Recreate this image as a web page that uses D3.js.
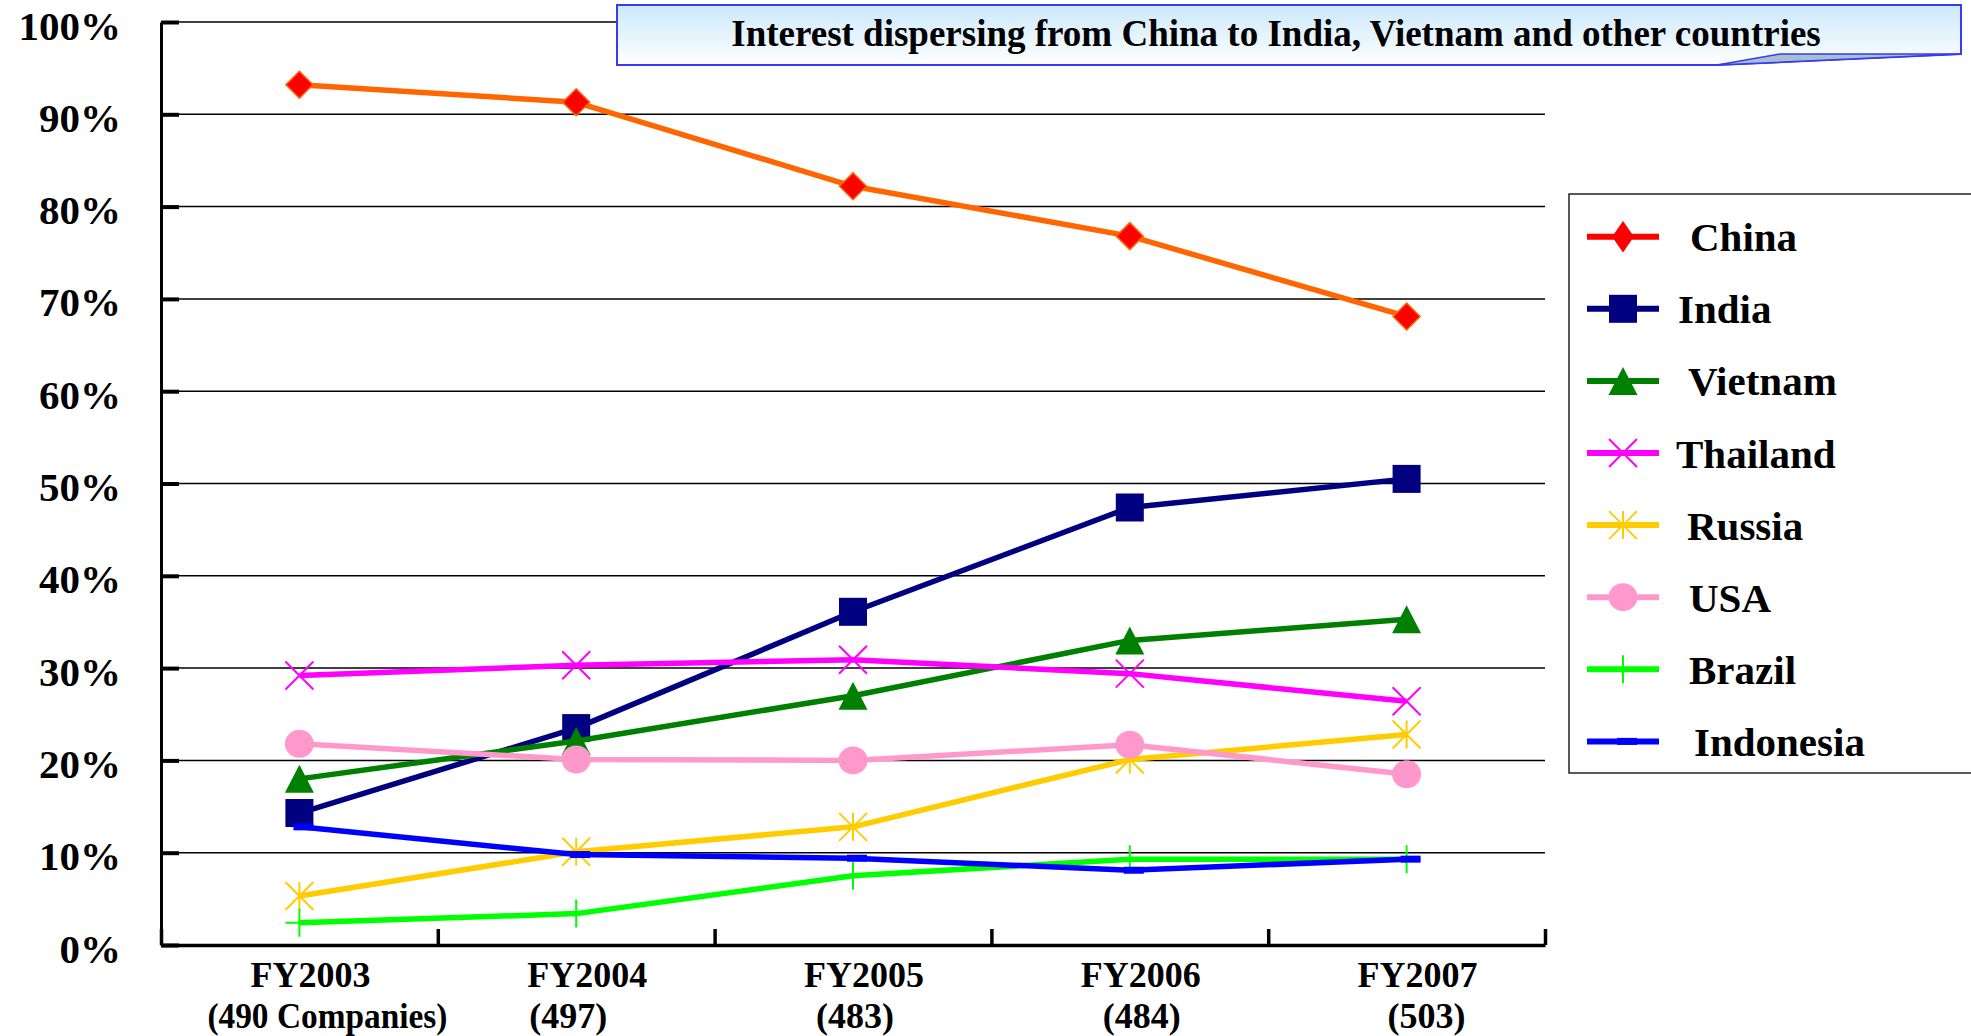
<!DOCTYPE html>
<html>
<head>
<meta charset="utf-8">
<script src="https://cdn.jsdelivr.net/npm/d3@7"></script>
<style>
  html, body { margin: 0; padding: 0; background: #fff; overflow: hidden; }
  svg { display: block; font-family: "Liberation Serif", "Times New Roman", serif; font-weight: bold; }
</style>
</head>
<body>
<svg id="chart" width="1971" height="1036"></svg>
<script>
// ---- data ----
const years = ["FY2003", "FY2004", "FY2005", "FY2006", "FY2007"];
const companyCounts = ["(490 Companies)", "(497)", "(483)", "(484)", "(503)"];
const yTickValues = [0, 10, 20, 30, 40, 50, 60, 70, 80, 90, 100];
const yTickLabels = ["0%", "10%", "20%", "30%", "40%", "50%", "60%", "70%", "80%", "90%", "100%"];
const seriesNames = ["China", "India", "Vietnam", "Thailand", "Russia", "USA", "Brazil", "Indonesia"];
const china     = [93.2, 91.3, 82.2, 76.8, 68.1];
const india     = [14.3, 23.5, 36.1, 47.4, 50.5];
const vietnam   = [18.0, 22.1, 27.0, 33.0, 35.3];
const thailand  = [29.2, 30.3, 30.9, 29.4, 26.4];
const russia    = [5.3, 10.1, 12.8, 20.1, 22.8];
const usa       = [21.8, 20.1, 20.0, 21.7, 18.5];
const brazil    = [2.4, 3.4, 7.5, 9.3, 9.3];
const indonesia = [12.8, 9.8, 9.4, 8.1, 9.3];
const seriesValues = [china, india, vietnam, thailand, russia, usa, brazil, indonesia];
const titleText = "Interest dispersing from China to India, Vietnam and other countries";

// ---- styling per series ----
const lineColors   = ["#FF6600", "#000080", "#008000", "#FF00FF", "#FFCC00", "#FF99CC", "#00FF00", "#0000FF"];
const legendColors = ["#FF0000", "#000080", "#008000", "#FF00FF", "#FFCC00", "#FF99CC", "#00FF00", "#0000FF"];
const markerTypes  = ["diamond", "square", "triangle", "x", "star", "circle", "plus", "dash"];

// ---- layout ----
const plot = { left: 161, right: 1545, top: 22, bottom: 945 };
const subLabelShift = [28, -8, 2, 12, 20];
const legendTextX = [1690, 1678, 1688, 1676, 1687, 1689, 1689, 1694];

const svg = d3.select("#chart");

const x = d3.scaleBand().domain(years).range([plot.left, plot.right]).padding(0);
const xc = d => x(d) + x.bandwidth() / 2;
const y = d3.scaleLinear().domain([0, 100]).range([plot.bottom, plot.top]);

// horizontal gridlines
svg.append("g").selectAll("line")
  .data(yTickValues.filter(v => v > 0))
  .join("line")
  .attr("x1", plot.left).attr("x2", plot.right)
  .attr("y1", d => y(d)).attr("y2", d => y(d))
  .attr("stroke", "#000").attr("stroke-width", 1.5);

// y axis
const yAxis = svg.append("g")
  .attr("transform", `translate(${plot.left},0)`)
  .call(d3.axisLeft(y).tickValues(yTickValues).tickSize(-18).tickSizeOuter(0).tickPadding(40)
    .tickFormat((d, i) => yTickLabels[i]));
yAxis.select(".domain").attr("stroke", "#000").attr("stroke-width", 3);
yAxis.selectAll(".tick line").attr("stroke", "#000").attr("stroke-width", 4);
yAxis.selectAll(".tick text")
  .attr("font-family", "Liberation Serif, Times New Roman, serif")
  .attr("font-weight", "bold").attr("font-size", 41).attr("fill", "#000")
  .attr("dy", 17);

// x axis with ticks at category boundaries
const xEdges = d3.scaleLinear().domain([0, years.length]).range([plot.left, plot.right]);
const xAxis = svg.append("g")
  .attr("transform", `translate(0,${plot.bottom})`)
  .call(d3.axisBottom(xEdges).tickValues(d3.range(years.length + 1)).tickSize(-16).tickSizeOuter(0).tickFormat(""));
xAxis.select(".domain").attr("stroke", "#000").attr("stroke-width", 3.5);
xAxis.selectAll(".tick line").attr("stroke", "#000").attr("stroke-width", 3.5);

// category labels (two lines each)
const xLab = svg.append("g").attr("font-size", 36).attr("text-anchor", "middle").attr("fill", "#000");
xLab.selectAll("text.yr").data(years).join("text").attr("class", "yr")
  .attr("x", d => xc(d) + 11).attr("y", 987).text(d => d);
xLab.selectAll("text.cnt").data(companyCounts).join("text").attr("class", "cnt")
  .attr("x", (d, i) => xc(years[i]) + subLabelShift[i]).attr("y", 1028)
  .each(function (d, i) {
    if (i === 0) d3.select(this).attr("textLength", 240).attr("lengthAdjust", "spacingAndGlyphs");
  })
  .text(d => d);

// marker painter
function drawMarker(g, type, color, cx, cy, legend) {
  const s = 14;
  switch (type) {
    case "diamond": {
      const w = legend ? 10 : 13.5, h = legend ? 14.5 : 13.5;
      g.append("path").attr("d", `M${cx},${cy - h}L${cx + w},${cy}L${cx},${cy + h}L${cx - w},${cy}Z`)
        .attr("fill", "#FF0000").attr("stroke", legend ? "#FF0000" : "#FF6600").attr("stroke-width", 1.5);
      break;
    }
    case "square":
      g.append("rect").attr("x", cx - s).attr("y", cy - s).attr("width", 2 * s).attr("height", 2 * s).attr("fill", color);
      break;
    case "triangle":
      g.append("path").attr("d", `M${cx},${cy - s}L${cx + 14.5},${cy + s}L${cx - 14.5},${cy + s}Z`).attr("fill", color);
      break;
    case "x":
      g.append("path").attr("d", `M${cx - s},${cy - s}L${cx + s},${cy + s}M${cx + s},${cy - s}L${cx - s},${cy + s}`)
        .attr("stroke", color).attr("stroke-width", 2).attr("fill", "none");
      break;
    case "star":
      g.append("path").attr("d", `M${cx - s},${cy - s}L${cx + s},${cy + s}M${cx + s},${cy - s}L${cx - s},${cy + s}M${cx},${cy - s}L${cx},${cy + s}`)
        .attr("stroke", color).attr("stroke-width", 2).attr("fill", "none");
      break;
    case "circle":
      g.append("ellipse").attr("cx", cx).attr("cy", cy).attr("rx", 14.5).attr("ry", 14).attr("fill", color);
      break;
    case "plus":
      g.append("path").attr("d", `M${cx},${cy - s}L${cx},${cy + s}M${cx - s},${cy}L${cx + s},${cy}`)
        .attr("stroke", color).attr("stroke-width", 2).attr("fill", "none");
      break;
    case "dash":
      g.append("rect").attr("x", cx - 6).attr("y", cy - 3.5).attr("width", 20).attr("height", 7).attr("fill", color);
      break;
  }
}

// series lines and markers
const line = d3.line().x((d, i) => xc(years[i])).y(d => y(d));
const seriesG = svg.append("g");
seriesValues.forEach((vals, k) => {
  const g = seriesG.append("g");
  g.append("path").datum(vals).attr("d", line)
    .attr("fill", "none").attr("stroke", lineColors[k]).attr("stroke-width", 5.5)
    .attr("stroke-linejoin", "round");
  vals.forEach((v, i) => drawMarker(g, markerTypes[k], lineColors[k], xc(years[i]), y(v), false));
});

// title callout
const defs = svg.append("defs");
const grad = defs.append("linearGradient").attr("id", "titleFill").attr("x1", 0).attr("y1", 0).attr("x2", 0).attr("y2", 1);
grad.append("stop").attr("offset", "0%").attr("stop-color", "#CBE8FB");
grad.append("stop").attr("offset", "100%").attr("stop-color", "#FFFFFF");
const tb = { x0: 617, x1: 1961, top: 5, bottomL: 65, bottomR: 54, foldX: 1717, foldTip: 1780 };
svg.append("path")
  .attr("d", `M${tb.x0},${tb.top}L${tb.x1},${tb.top}L${tb.x1},${tb.bottomR}L${tb.foldX},${tb.bottomL}L${tb.x0},${tb.bottomL}Z`)
  .attr("fill", "url(#titleFill)").attr("stroke", "#3A3AF2").attr("stroke-width", 2);
svg.append("path")
  .attr("d", `M${tb.foldX},${tb.bottomL}L${tb.foldTip},${tb.bottomR}L${tb.x1},${tb.bottomR}Z`)
  .attr("fill", "#A6BFD0").attr("stroke", "#3A3AF2").attr("stroke-width", 1.5).attr("stroke-linejoin", "round");
svg.append("text").attr("x", 1276).attr("y", 46).attr("text-anchor", "middle")
  .attr("font-size", 37).attr("fill", "#000").text(titleText);

// legend
const lg = svg.append("g");
lg.append("rect").attr("x", 1569).attr("y", 194).attr("width", 450).attr("height", 579)
  .attr("fill", "#fff").attr("stroke", "#222").attr("stroke-width", 1.5);
seriesNames.forEach((name, k) => {
  const ry = 236.7 + k * 72.1;
  lg.append("line").attr("x1", 1587).attr("x2", 1659).attr("y1", ry).attr("y2", ry)
    .attr("stroke", legendColors[k]).attr("stroke-width", 6);
  drawMarker(lg, markerTypes[k], legendColors[k], 1623, ry, true);
  lg.append("text").attr("x", legendTextX[k]).attr("y", ry + 14.5)
    .attr("font-size", 41).attr("fill", "#000").text(name);
});
</script>
</body>
</html>
